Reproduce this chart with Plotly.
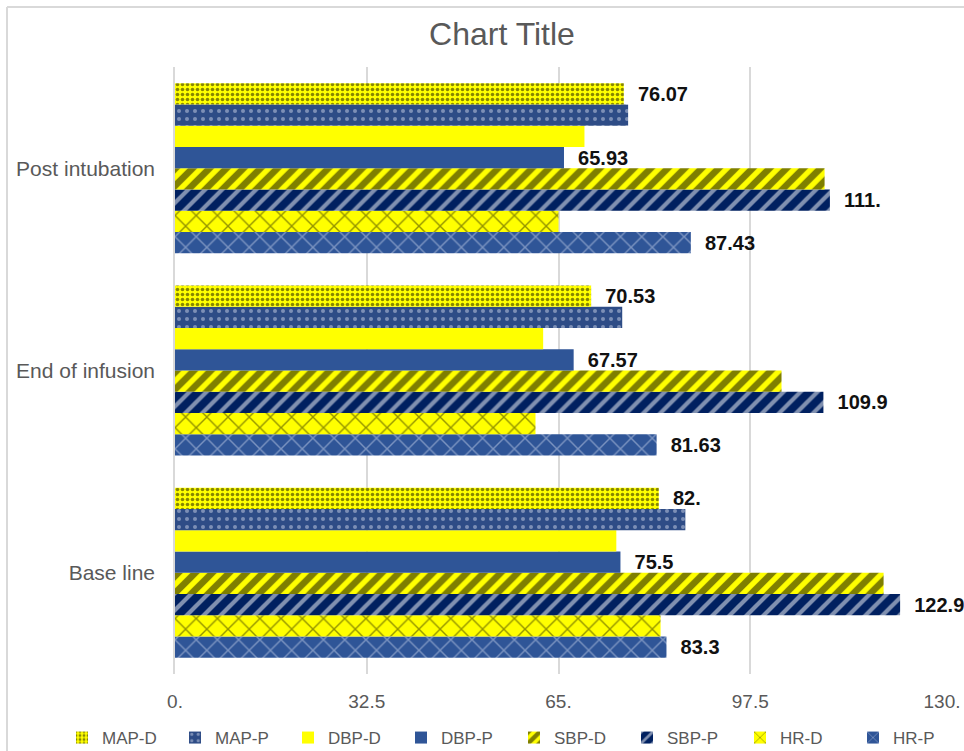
import plotly.graph_objects as go

categories = ["Base line", "End of infusion", "Post intubation"]

series_names = ["MAP-D", "MAP-P", "DBP-D", "DBP-P", "SBP-D", "SBP-P", "HR-D", "HR-P"]

map_d = [82.0, 70.53, 76.07]
map_p = [86.5, 75.8, 76.8]
dbp_d = [74.8, 62.4, 69.4]
dbp_p = [75.5, 67.57, 65.93]
sbp_d = [120.1, 102.8, 110.1]
sbp_p = [122.9, 109.9, 111.0]
hr_d = [82.3, 61.1, 65.0]
hr_p = [83.3, 81.63, 87.43]

map_d_labels = ["82.", "70.53", "76.07"]
dbp_p_labels = ["75.5", "67.57", "65.93"]
sbp_p_labels = ["122.9", "109.9", "111."]
hr_p_labels = ["83.3", "81.63", "87.43"]

x_tickvals = [0, 32.5, 65, 97.5, 130]
x_ticktext = ["0.", "32.5", "65.", "97.5", "130."]

YELLOW = "#FFFF00"
BLUE = "#2F5597"
NAVY = "#002060"
DOTBLUE = "#2E4C86"

values = {
    "MAP-D": map_d, "MAP-P": map_p, "DBP-D": dbp_d, "DBP-P": dbp_p,
    "SBP-D": sbp_d, "SBP-P": sbp_p, "HR-D": hr_d, "HR-P": hr_p,
}
labels = {
    "MAP-D": map_d_labels, "DBP-P": dbp_p_labels,
    "SBP-P": sbp_p_labels, "HR-P": hr_p_labels,
}
styles = {
    "MAP-D": dict(color=YELLOW, pattern=dict(shape=".", fgcolor="#101000", bgcolor=YELLOW, size=5, solidity=0.4, fillmode="overlay")),
    "MAP-P": dict(color=DOTBLUE, pattern=dict(shape=".", fgcolor="#C9D2E6", bgcolor=DOTBLUE, size=8, solidity=0.2, fillmode="overlay")),
    "DBP-D": dict(color=YELLOW),
    "DBP-P": dict(color=BLUE),
    "SBP-D": dict(color=YELLOW, pattern=dict(shape="/", fgcolor="#000000", bgcolor=YELLOW, size=12, solidity=0.55, fillmode="overlay")),
    "SBP-P": dict(color=NAVY, pattern=dict(shape="/", fgcolor="#FFFFFF", bgcolor=NAVY, size=12, solidity=0.35, fillmode="overlay")),
    "HR-D": dict(color=YELLOW, pattern=dict(shape="x", fgcolor="#2A2A00", bgcolor=YELLOW, size=15, solidity=0.18, fillmode="overlay")),
    "HR-P": dict(color=BLUE, pattern=dict(shape="x", fgcolor="#C8D2EA", bgcolor=BLUE, size=15, solidity=0.18, fillmode="overlay")),
}

fig = go.Figure()
for name in reversed(series_names):
    txt = labels.get(name)
    fig.add_trace(go.Bar(
        name=name,
        y=categories,
        x=values[name],
        orientation="h",
        marker=dict(line=dict(width=0), **styles[name]),
        text=["\u00a0\u00a0" + t for t in txt] if txt else None,
        textposition="outside" if txt else "none",
        textfont=dict(family="Liberation Sans", size=20, color="#111111", weight="bold"),
        constraintext="none",
        cliponaxis=False,
        hoverinfo="skip",
    ))

fig.update_layout(
    width=964, height=751,
    margin=dict(l=175, r=22, t=67, b=77, autoexpand=False),
    paper_bgcolor="white", plot_bgcolor="white",
    barmode="group", bargap=0.16, bargroupgap=0,
    font=dict(family="Liberation Sans", color="#595959"),
    title=dict(text="Chart Title", x=502/964, xanchor="center", xref="container",
               y=1 - 34/751, yanchor="middle", yref="container",
               font=dict(size=32, color="#595959", family="Liberation Sans")),
    xaxis=dict(range=[0, 130], tickvals=x_tickvals, ticktext=x_ticktext,
               showgrid=True, gridcolor="#D9D9D9", gridwidth=1.5, zeroline=False,
               showline=False, ticks="", ticklabelstandoff=14,
               tickfont=dict(size=19, color="#595959")),
    yaxis=dict(showgrid=False, showline=True, linecolor="#D9D9D9", linewidth=1.5,
               ticks="", ticklabelstandoff=14,
               tickfont=dict(size=21, color="#595959")),
    legend=dict(orientation="h", traceorder="reversed", xref="paper", yref="paper",
                x=(62 - 175)/767, xanchor="left", y=(674 - 738)/607, yanchor="middle",
                entrywidth=68, entrywidthmode="pixels",
                font=dict(size=17, color="#595959"), bgcolor="rgba(0,0,0,0)"),
    shapes=[
        dict(type="line", xref="paper", yref="paper", x0=-168/767, x1=-168/767,
             y0=-0.2, y1=(674 - 7)/607, line=dict(color="#D9D9D9", width=2)),
        dict(type="line", xref="paper", yref="paper", x0=-168/767, x1=1.1,
             y0=(674 - 7)/607, y1=(674 - 7)/607, line=dict(color="#D9D9D9", width=2)),
    ],
)

fig.write_html("out.html")
